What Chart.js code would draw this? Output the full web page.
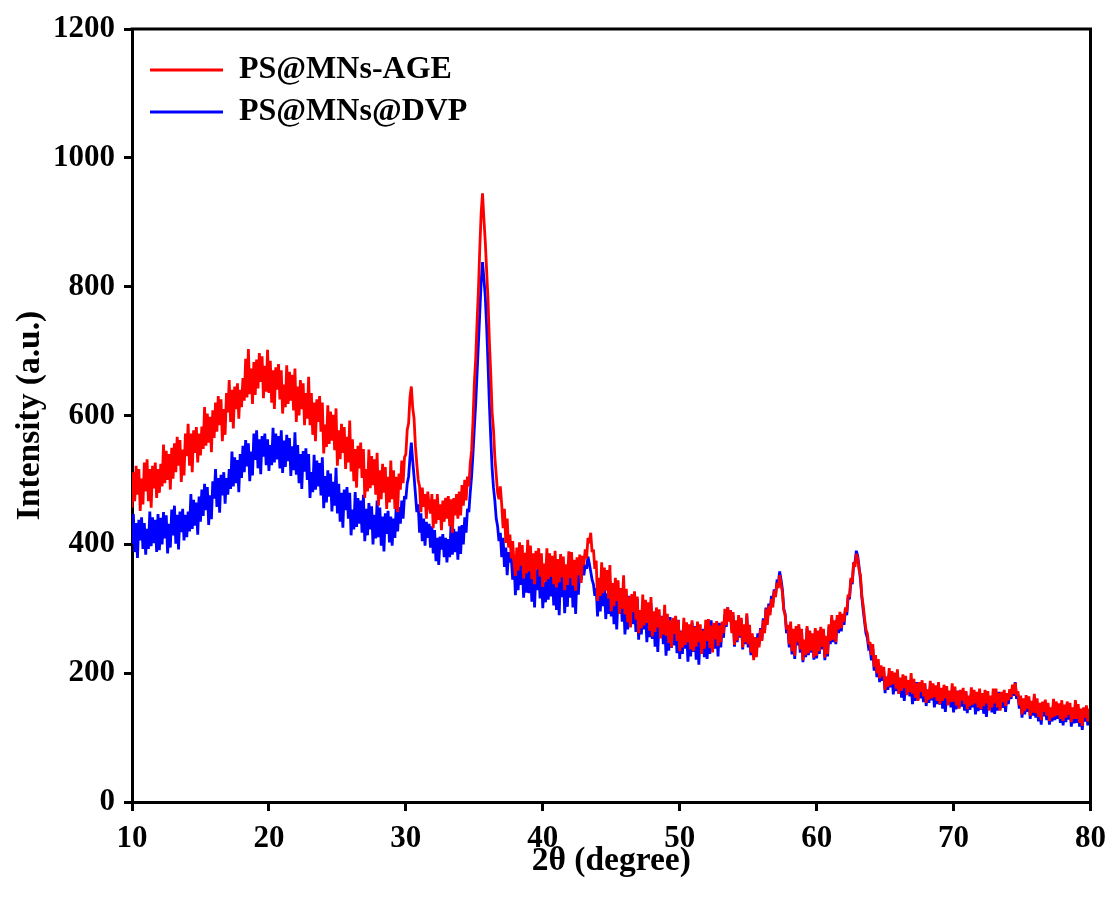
<!DOCTYPE html>
<html>
<head>
<meta charset="utf-8">
<script src="https://cdn.jsdelivr.net/npm/chart.js@4.4.1/dist/chart.umd.min.js"></script>
<style>
html,body{margin:0;padding:0;background:#ffffff;}
canvas{display:block;}
</style>
</head>
<body>
<canvas id="c" width="1115" height="908"></canvas>
<script>
// sampling grid of the scans (2θ in degrees)
const START_2THETA = 10;
const STEP_2THETA = 0.1;

const xTickValues = [10, 20, 30, 40, 50, 60, 70, 80];
const yTickValues = [0, 200, 400, 600, 800, 1000, 1200];
const seriesNames = ['PS@MNs-AGE', 'PS@MNs@DVP'];
const xTitle = '2\u03B8 (degree)';
const yTitle = 'Intensity (a.u.)';

// PS@MNs-AGE intensity, 10.0 .. 80.0 step 0.1 (one row per degree)
const ageIntensity = [
  457, 512, 467, 522, 477, 517, 452, 502, 462, 527,
  482, 532, 467, 517, 457, 522, 487, 527, 472, 517,
  480, 525, 490, 555, 495, 545, 500, 540, 485, 550,
  502, 557, 512, 567, 522, 562, 497, 547, 507, 572,
  537, 587, 522, 572, 512, 577, 542, 582, 527, 572,
  538, 583, 548, 613, 553, 603, 558, 598, 543, 608,
  565, 620, 575, 630, 585, 625, 560, 610, 570, 635,
  605, 655, 590, 640, 580, 645, 610, 650, 595, 640,
  613, 658, 623, 688, 628, 703, 633, 673, 618, 683,
  632, 687, 642, 697, 652, 692, 627, 677, 637, 702,
  635, 685, 620, 670, 610, 675, 640, 680, 625, 670,
  603, 648, 613, 678, 618, 668, 623, 663, 608, 673,
  590, 645, 600, 655, 610, 650, 585, 635, 595, 660,
  585, 635, 570, 620, 560, 625, 590, 630, 575, 620,
  541, 586, 551, 616, 556, 606, 561, 601, 546, 611,
  522, 577, 532, 587, 542, 582, 517, 567, 527, 592,
  513, 563, 498, 548, 488, 553, 518, 558, 503, 548,
  472, 517, 482, 547, 487, 537, 492, 532, 477, 542,
  460, 515, 470, 525, 480, 520, 455, 505, 465, 530,
  470, 515, 455, 505, 450, 510, 485, 530, 495, 535,
  540, 578, 588, 628, 645, 612, 595, 552, 525, 500,
  490, 450, 488, 458, 478, 440, 482, 460, 448, 478,
  425, 470, 432, 478, 438, 462, 422, 468, 435, 472,
  440, 475, 428, 470, 418, 472, 445, 478, 440, 482,
  445, 492, 460, 500, 468, 505, 490, 525, 545, 590,
  650, 688, 745, 795, 860, 915, 945, 905, 870, 825,
  780, 715, 665, 605, 578, 535, 508, 480, 470, 490,
  462, 425, 455, 402, 440, 395, 415, 378, 405, 372,
  351, 395, 359, 403, 367, 399, 347, 387, 355, 407,
  358, 398, 346, 386, 338, 390, 362, 394, 350, 386,
  334, 370, 342, 394, 346, 386, 350, 382, 338, 390,
  333, 377, 341, 385, 349, 381, 329, 369, 337, 389,
  348, 388, 336, 376, 328, 380, 352, 384, 340, 382,
  368, 392, 378, 410, 402, 418, 388, 392, 362, 375,
  312, 348, 320, 372, 324, 364, 328, 360, 316, 368,
  296, 340, 304, 348, 312, 344, 292, 332, 300, 352,
  291, 331, 279, 319, 271, 323, 295, 327, 283, 319,
  262, 298, 270, 322, 274, 314, 278, 310, 266, 318,
  257, 296, 264, 302, 271, 299, 254, 288, 260, 306,
  258, 292, 247, 282, 240, 286, 261, 289, 250, 282,
  234, 265, 240, 286, 244, 279, 248, 276, 237, 282,
  234, 272, 241, 280, 248, 276, 230, 266, 238, 283,
  250, 284, 239, 274, 232, 278, 253, 281, 242, 274,
  248, 280, 262, 300, 275, 302, 280, 298, 262, 295,
  244, 282, 251, 290, 258, 286, 240, 276, 248, 293,
  245, 275, 232, 262, 220, 256, 225, 255, 240, 268,
  250, 282, 262, 300, 275, 305, 290, 315, 302, 328,
  318, 340, 332, 352, 338, 325, 298, 290, 268, 275,
  245, 280, 234, 269, 227, 273, 248, 276, 237, 269,
  220, 252, 228, 273, 231, 266, 235, 262, 224, 270,
  227, 266, 234, 272, 241, 269, 224, 258, 230, 276,
  250, 290, 252, 282, 248, 290, 268, 295, 270, 292,
  280, 302, 295, 322, 318, 348, 340, 372, 365, 385,
  378, 360, 352, 320, 305, 285, 268, 262, 245, 248,
  228, 245, 210, 228, 200, 222, 192, 212, 195, 210,
  174, 195, 179, 208, 181, 203, 183, 201, 176, 206,
  168, 193, 173, 198, 177, 196, 166, 189, 171, 200,
  168, 191, 162, 184, 157, 186, 171, 189, 164, 184,
  154, 175, 159, 188, 161, 184, 163, 181, 157, 186,
  152, 177, 157, 182, 161, 180, 150, 173, 155, 184,
  156, 179, 150, 172, 145, 174, 158, 177, 152, 172,
  144, 165, 149, 178, 151, 174, 153, 171, 147, 176,
  144, 169, 149, 174, 153, 172, 142, 165, 147, 176,
  153, 176, 147, 169, 142, 171, 155, 174, 149, 169,
  158, 175, 163, 182, 168, 185, 165, 172, 150, 165,
  136, 161, 141, 166, 145, 164, 134, 157, 139, 168,
  138, 161, 132, 154, 127, 156, 140, 159, 134, 154,
  126, 147, 131, 160, 133, 156, 135, 153, 129, 158,
  126, 151, 131, 156, 135, 154, 124, 147, 129, 158,
  129, 152, 123, 145, 118, 147, 131, 150, 125, 145,
  128
];

// PS@MNs@DVP intensity, 10.0 .. 80.0 step 0.1 (one row per degree)
const dvpIntensity = [
  401, 447, 388, 433, 379, 438, 406, 442, 393, 433,
  384, 424, 393, 451, 397, 442, 402, 438, 388, 447,
  391, 441, 400, 450, 409, 445, 386, 432, 395, 454,
  414, 460, 401, 446, 392, 451, 419, 455, 406, 446,
  411, 451, 420, 478, 424, 469, 429, 465, 415, 474,
  435, 485, 444, 494, 453, 489, 430, 476, 439, 498,
  471, 517, 458, 503, 449, 508, 476, 512, 463, 503,
  477, 517, 486, 544, 490, 535, 495, 531, 481, 540,
  503, 553, 512, 562, 521, 557, 498, 544, 507, 572,
  531, 577, 518, 563, 509, 568, 536, 572, 523, 563,
  514, 554, 523, 581, 527, 572, 532, 568, 518, 577,
  511, 561, 520, 570, 529, 565, 506, 552, 515, 574,
  508, 554, 495, 540, 486, 545, 513, 549, 500, 540,
  472, 512, 481, 539, 485, 530, 490, 526, 476, 535,
  456, 506, 465, 515, 474, 510, 451, 497, 460, 519,
  448, 494, 435, 480, 426, 485, 453, 489, 440, 480,
  414, 454, 423, 481, 427, 472, 432, 468, 418, 477,
  405, 455, 414, 464, 423, 459, 400, 446, 409, 468,
  411, 457, 398, 443, 389, 448, 416, 452, 403, 443,
  398, 440, 410, 462, 420, 458, 432, 468, 440, 475,
  470, 495, 505, 535, 558, 530, 505, 478, 450, 462,
  418, 448, 405, 440, 398, 435, 410, 432, 395, 428,
  386, 422, 374, 410, 368, 412, 392, 416, 380, 410,
  372, 408, 380, 432, 384, 424, 388, 420, 376, 428,
  385, 430, 400, 442, 418, 455, 450, 480, 505, 540,
  580, 618, 665, 712, 760, 808, 838, 812, 785, 738,
  680, 618, 565, 518, 488, 468, 440, 428, 405, 418,
  380, 410, 365, 395, 352, 388, 372, 380, 345, 375,
  321, 365, 329, 373, 337, 369, 317, 357, 325, 377,
  324, 370, 311, 356, 302, 361, 329, 365, 316, 356,
  301, 341, 310, 368, 314, 359, 319, 355, 305, 364,
  298, 353, 290, 363, 318, 358, 293, 343, 303, 368,
  317, 367, 302, 352, 292, 357, 322, 362, 345, 370,
  352, 368, 362, 381, 370, 358, 345, 338, 320, 332,
  288, 332, 296, 340, 304, 336, 284, 324, 292, 344,
  288, 328, 276, 316, 268, 320, 292, 324, 280, 316,
  260, 296, 268, 320, 272, 312, 276, 308, 264, 316,
  252, 296, 260, 304, 268, 300, 248, 288, 256, 308,
  253, 293, 241, 281, 233, 285, 257, 289, 245, 281,
  227, 263, 235, 287, 239, 279, 243, 275, 231, 283,
  222, 266, 230, 274, 238, 270, 218, 258, 226, 278,
  233, 273, 221, 261, 213, 265, 237, 269, 225, 261,
  222, 258, 230, 282, 234, 274, 238, 270, 226, 278,
  240, 275, 255, 290, 272, 302, 285, 298, 268, 290,
  241, 280, 248, 287, 255, 283, 237, 273, 245, 290,
  240, 265, 228, 258, 225, 256, 232, 262, 245, 270,
  252, 285, 265, 302, 280, 308, 295, 320, 310, 330,
  322, 342, 340, 358, 345, 330, 300, 292, 262, 270,
  240, 272, 229, 264, 222, 268, 243, 271, 232, 264,
  217, 249, 225, 270, 228, 263, 232, 259, 221, 267,
  223, 262, 230, 268, 237, 265, 220, 254, 226, 272,
  245, 285, 248, 278, 245, 285, 262, 290, 265, 288,
  275, 298, 290, 318, 315, 345, 338, 370, 372, 390,
  382, 365, 345, 318, 298, 280, 262, 255, 238, 240,
  220, 238, 204, 222, 194, 215, 186, 206, 188, 203,
  169, 194, 174, 199, 178, 197, 167, 190, 172, 201,
  168, 191, 162, 184, 157, 186, 171, 189, 164, 184,
  152, 173, 157, 186, 159, 182, 161, 179, 155, 184,
  149, 174, 154, 179, 158, 177, 147, 170, 152, 181,
  151, 174, 145, 167, 140, 169, 153, 172, 147, 167,
  139, 160, 144, 173, 146, 169, 148, 166, 142, 171,
  138, 163, 143, 168, 147, 166, 136, 159, 141, 170,
  143, 166, 137, 159, 132, 161, 145, 164, 139, 159,
  137, 158, 142, 171, 144, 167, 146, 164, 140, 169,
  152, 170, 160, 178, 165, 186, 160, 168, 145, 158,
  131, 156, 136, 161, 140, 159, 129, 152, 134, 163,
  131, 154, 125, 147, 120, 149, 133, 152, 127, 147,
  120, 141, 125, 154, 127, 150, 129, 147, 123, 152,
  119, 144, 124, 149, 128, 147, 117, 140, 122, 151,
  123, 146, 117, 139, 112, 141, 125, 144, 119, 139,
  118
];

function toPoints(values) {
  return values.map((v, i) => ({ x: +(START_2THETA + i * STEP_2THETA).toFixed(1), y: v }));
}

const FONT = 'Liberation Serif, Times New Roman, serif';

const framePlugin = {
  id: 'frame',
  afterLayout(chart) {
    const lg = chart.legend;
    if (lg) { lg.left += 8; lg.top += 44; }
  },
  beforeDatasetsDraw(chart) {
    chart.ctx.save();
    chart.ctx.miterLimit = 2.5;
  },
  afterDatasetsDraw(chart) {
    chart.ctx.restore();
  },
  afterDraw(chart) {
    const a = chart.chartArea;
    const ctx = chart.ctx;
    ctx.save();
    ctx.strokeStyle = '#000';
    ctx.lineWidth = 3;
    ctx.beginPath();
    ctx.moveTo(a.left - 1.5, a.top);
    ctx.lineTo(a.right, a.top);
    ctx.lineTo(a.right, a.bottom + 1.5);
    ctx.stroke();
    ctx.restore();
  }
};

new Chart(document.getElementById('c'), {
  type: 'line',
  data: {
    datasets: [
      { label: seriesNames[0], data: toPoints(ageIntensity), borderColor: '#ff0000', backgroundColor: '#ff0000',
        borderWidth: 2.8, borderJoinStyle: 'miter', pointRadius: 0, tension: 0, fill: false },
      { label: seriesNames[1], data: toPoints(dvpIntensity), borderColor: '#0000ff', backgroundColor: '#0000ff',
        borderWidth: 2.8, borderJoinStyle: 'miter', pointRadius: 0, tension: 0, fill: false }
    ]
  },
  options: {
    responsive: false,
    animation: false,
    devicePixelRatio: 1,
    layout: { padding: { left: 0, right: 22, top: 29, bottom: 0 } },
    plugins: {
      tooltip: { enabled: false },
      legend: {
        position: 'chartArea',
        align: 'start',
        labels: {
          color: '#000',
          font: { family: FONT, size: 32, weight: 'bold' },
          boxWidth: 73,
          boxHeight: 3,
          padding: 10,
          generateLabels(chart) {
            const items = Chart.defaults.plugins.legend.labels.generateLabels(chart);
            items.forEach(it => { it.lineWidth = 0; });
            return items;
          }
        }
      }
    },
    scales: {
      x: {
        type: 'linear',
        min: 10,
        max: 80,
        afterBuildTicks(axis) { axis.ticks = xTickValues.map(v => ({ value: v })); },
        afterFit(axis) { axis.height = 106; },
        border: { display: true, color: '#000', width: 3 },
        grid: { drawOnChartArea: false, drawTicks: true, color: '#000', lineWidth: 3, tickLength: 9 },
        ticks: { color: '#000', font: { family: FONT, size: 31, weight: 'bold' }, padding: 9, maxRotation: 0, autoSkip: false,
                 callback: v => String(v) },
        title: { display: true, text: xTitle, color: '#000', font: { family: FONT, size: 33.5, weight: 'bold' }, padding: { top: 0, bottom: 27 } }
      },
      y: {
        type: 'linear',
        min: 0,
        max: 1200,
        afterBuildTicks(axis) { axis.ticks = yTickValues.map(v => ({ value: v })); },
        afterFit(axis) { axis.width = 132; },
        border: { display: true, color: '#000', width: 3 },
        grid: { drawOnChartArea: false, drawTicks: true, color: '#000', lineWidth: 3, tickLength: 8 },
        ticks: { color: '#000', font: { family: FONT, size: 31, weight: 'bold' }, padding: 9, autoSkip: false,
                 callback: v => String(v) },
        title: { display: true, text: yTitle, color: '#000', font: { family: FONT, size: 33.5, weight: 'bold' }, padding: { top: 10, bottom: 0 } }
      }
    }
  },
  plugins: [framePlugin]
});
</script>
</body>
</html>
